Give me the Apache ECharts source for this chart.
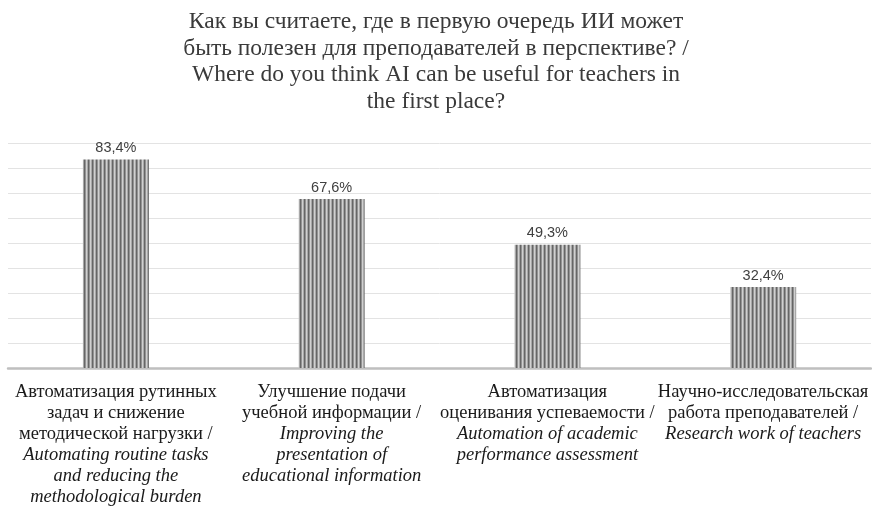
<!DOCTYPE html>
<html>
<head>
<meta charset="utf-8">
<script src="https://cdn.jsdelivr.net/npm/echarts@6/dist/echarts.min.js"></script>
<style>
  html, body { margin: 0; padding: 0; background: #fff; }
  #chart { width: 872px; height: 508px; }
</style>
</head>
<body>
<div id="chart"></div>
<script>
// Russian part of each category label (line breaks as laid out under the bars)
const categoriesRu = [
  'Автоматизация рутинных\nзадач и снижение\nметодической нагрузки /',
  'Улучшение подачи\nучебной информации /',
  'Автоматизация\nоценивания успеваемости /',
  'Научно-исследовательская\nработа преподавателей /'
];
// English translation, set in italics
const categoriesEn = [
  'Automating routine tasks\nand reducing the\nmethodological burden',
  'Improving the\npresentation of\neducational information',
  'Automation of academic\nperformance assessment',
  'Research work of teachers'
];
// Share of respondents, %
const values = [83.4, 67.6, 49.3, 32.4];

const titleText = 'Как вы считаете, где в первую очередь ИИ может\nбыть полезен для преподавателей в перспективе? /\nWhere do you think AI can be useful for teachers in\nthe first place?';

// Vertical-stripe fill for the bars
function stripePattern() {
  const c = document.createElement('canvas');
  c.width = 4; c.height = 4;
  const ctx = c.getContext('2d');
  const cols = ['#666666', '#939393', '#d0d0d0', '#a8a8a8'];
  cols.forEach((col, i) => { ctx.fillStyle = col; ctx.fillRect(i, 0, 1, 4); });
  return c;
}

function labelText(i) {
  const ru = categoriesRu[i].split('\n').map(s => '{n|' + s + '}');
  const en = categoriesEn[i].split('\n').map(s => '{i|' + s + '}');
  return ru.concat(en).join('\n');
}

const chart = echarts.init(document.getElementById('chart'), null, { renderer: 'canvas' });
chart.setOption({
  animation: false,
  backgroundColor: '#ffffff',
  title: {
    text: titleText,
    left: 'center',
    top: 4,
    textStyle: {
      fontFamily: 'Liberation Serif',
      fontWeight: 'normal',
      fontSize: 23.5,
      lineHeight: 26.5,
      color: '#3a3a3a'
    }
  },
  grid: { left: 8, right: 1, top: 143, bottom: 140, containLabel: false },
  xAxis: {
    type: 'category',
    data: categoriesRu.map((_, i) => i),
    axisTick: { show: false },
    axisLine: { lineStyle: { color: '#bfbfbf', width: 2.5 } },
    axisLabel: {
      interval: 0,
      margin: 14,
      formatter: (v, idx) => labelText(idx),
      rich: {
        n: { fontFamily: 'Liberation Serif', fontSize: 18.5, lineHeight: 21, color: '#1a1a1a', align: 'center' },
        i: { fontFamily: 'Liberation Serif', fontStyle: 'italic', fontSize: 18.5, lineHeight: 21, color: '#1a1a1a', align: 'center' }
      }
    }
  },
  yAxis: {
    type: 'value',
    min: 0, max: 90, interval: 10,
    axisLabel: { show: false },
    axisLine: { show: false },
    axisTick: { show: false },
    splitLine: { lineStyle: { color: '#e3e3e3', width: 1 } }
  },
  series: [{
    type: 'bar',
    data: values,
    barWidth: 66,
    itemStyle: { color: { image: stripePattern(), repeat: 'repeat' } },
    label: {
      show: true,
      position: 'top',
      distance: 4,
      formatter: p => p.value.toFixed(1).replace('.', ',') + '%',
      fontFamily: 'Liberation Sans',
      fontSize: 14.5,
      color: '#404040'
    }
  }]
});
</script>
</body>
</html>
